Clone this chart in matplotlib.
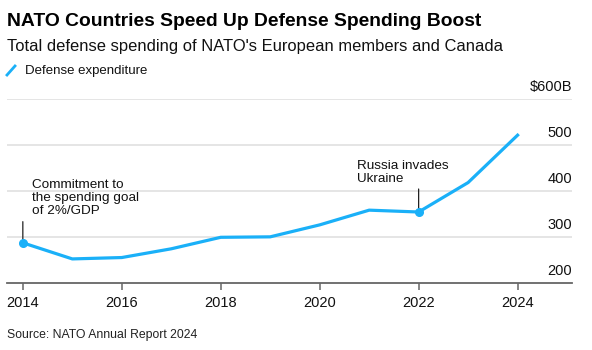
import matplotlib
matplotlib.use("Agg")
import matplotlib.pyplot as plt
import matplotlib.lines as mlines

plt.rcParams['font.family'] = ['Liberation Sans', 'DejaVu Sans']

years = [2014, 2015, 2016, 2017, 2018, 2019, 2020, 2021, 2022, 2023, 2024]
spending = [288, 253, 256, 275, 300, 301, 327, 359, 355, 419, 522]

ytick_vals = [200, 300, 400, 500, 600]
ytick_labels = ["200", "300", "400", "500", "$600B"]
xtick_vals = [2014, 2016, 2018, 2020, 2022, 2024]

BLUE = "#1ab0f8"
W, H = 592, 350

fig = plt.figure(figsize=(W / 100, H / 100), dpi=100)
ax = fig.add_axes([7 / W, 66.7 / H, 565 / W, 184 / H])

ax.set_xlim(2013.68, 2025.1)
ax.set_ylim(200, 600)

for v in ytick_vals[1:]:
    ax.axhline(v, color="#dedede", lw=1.1, zorder=0)

ax.plot(years, spending, color=BLUE, lw=2.3, solid_joinstyle="round", zorder=3)

# annotated points
ax.plot([years[0], years[8]], [spending[0], spending[8]], "o", color=BLUE, ms=5.5, zorder=4)
ax.annotate("", xy=(years[0], spending[0]), xytext=(years[0], spending[0] + 46),
            arrowprops=dict(arrowstyle="-", color="#222222", lw=0.9, shrinkA=0, shrinkB=0), zorder=2)
ax.annotate("", xy=(years[8], spending[8]), xytext=(years[8], spending[8] + 50),
            arrowprops=dict(arrowstyle="-", color="#222222", lw=0.9, shrinkA=0, shrinkB=0), zorder=2)
ax.text(2014.18, 427, "Commitment to\nthe spending goal\nof 2%/GDP", fontsize=9.7,
        va="top", ha="left", linespacing=1.1, color="#111111")
ax.text(2020.75, 467, "Russia invades\nUkraine", fontsize=9.7,
        va="top", ha="left", linespacing=1.1, color="#111111")

for s in ["top", "left", "right"]:
    ax.spines[s].set_visible(False)
ax.spines["bottom"].set_color("#666666")
ax.spines["bottom"].set_linewidth(1.3)

ax.set_yticks([])
ax.set_xticks(xtick_vals)
ax.set_xticklabels([str(x) for x in xtick_vals], fontsize=10.5, color="#111111")
ax.tick_params(axis="x", length=5, width=1.1, color="#666666", pad=4)

for v, lab in zip(ytick_vals, ytick_labels):
    ax.annotate(lab, xy=(1, v), xycoords=("axes fraction", "data"),
                xytext=(0, 4), textcoords="offset points",
                ha="right", va="bottom", fontsize=10.5, color="#111111")

fig.text(7 / W, 1 - 21 / H, "NATO Countries Speed Up Defense Spending Boost",
         fontsize=13.9, fontweight="bold", va="center", ha="left", color="#000000")
fig.text(7 / W, 1 - 46 / H, "Total defense spending of NATO's European members and Canada",
         fontsize=11.9, va="center", ha="left", color="#111111")
fig.add_artist(mlines.Line2D([7 / W, 15 / W], [1 - 75 / H, 1 - 66 / H],
                             color=BLUE, lw=2.0, transform=fig.transFigure))
fig.text(25 / W, 1 - 71 / H, "Defense expenditure", fontsize=9.5,
         va="center", ha="left", color="#111111")
fig.text(7 / W, 1 - 335 / H, "Source: NATO Annual Report 2024", fontsize=8.8,
         va="center", ha="left", color="#222222")

fig.savefig("out.png", dpi=100)
